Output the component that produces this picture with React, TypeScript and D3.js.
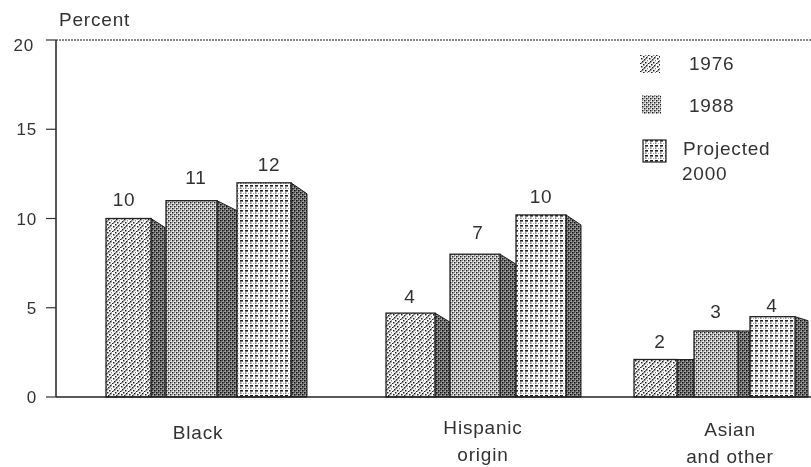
import React from "react";
import * as d3 from "d3";

const categories = ["Black", "Hispanic", "Asian"];
const categoryLines = [["Black"], ["Hispanic", "origin"], ["Asian", "and other"]];
const seriesNames = ["1976", "1988", "Projected 2000"];
const barHeights1976 = [10, 4.7, 2.1];
const barHeights1988 = [11, 8, 3.7];
const barHeights2000 = [12, 10.2, 4.5];
const labels1976 = ["10", "4", "2"];
const labels1988 = ["11", "7", "3"];
const labels2000 = ["12", "10", "4"];
const yTicks = [0, 5, 10, 15, 20];

const W = 811, H = 467;
const y = d3.scaleLinear().domain([0, 20]).range([397, 40]);
const keys = categories.flatMap((c) => seriesNames.map((s) => `${c}|${s}`));
const left = d3.scaleOrdinal<string, number>().domain(keys).range([106, 166, 237, 386, 450, 516, 634, 694, 750]);
const right = d3.scaleOrdinal<string, number>().domain(keys).range([151, 217, 291, 435, 500, 566, 677, 738, 795]);
const sideEnd = d3.scaleOrdinal<string, number>().domain(keys).range([165, 237, 307, 450, 516, 581, 694, 750, 808]);
const dropBy = d3.scaleOrdinal<string, number>().domain(keys).range([9, 10, 11, 9, 10, 10, 0, 0, 4]);
const labelX = d3.scaleOrdinal<string, number>().domain(keys).range([124, 196, 269, 410, 478, 541, 660, 716, 772]);
const labelGap = d3.scaleOrdinal<string, number>().domain(keys).range([13, 17, 12, 10, 15, 12, 12, 13, 5]);
const catX = d3.scaleOrdinal<string, number>().domain(categories).range([198, 483, 730]);

const rows = categories.flatMap((c, i) => [
  { c, s: seriesNames[0], v: barHeights1976[i], l: labels1976[i], p: 0 },
  { c, s: seriesNames[1], v: barHeights1988[i], l: labels1988[i], p: 1 },
  { c, s: seriesNames[2], v: barHeights2000[i], l: labels2000[i], p: 2 },
]);

const font = "'Liberation Sans', Arial, sans-serif";
const Dots = ({ pts, c = "#222", s = 1.2 }: { pts: number[][]; c?: string; s?: number }) => (
  <>{pts.map(([a, b], i) => <rect key={i} x={a} y={b} width={s} height={s} fill={c} />)}</>
);

export default function App() {
  const patFill = ["url(#p76)", "url(#p88)", "url(#p00)"];
  const txt = { fontSize: 19, fill: "#333", letterSpacing: 0.8 };
  return (
    <svg width={W} height={H} viewBox={`0 0 ${W} ${H}`} style={{ position: "absolute", left: 0, top: 0, background: "#fff", fontFamily: font }}>
      <defs>
        <filter id="soft" x="-5%" y="-5%" width="110%" height="110%">
          <feGaussianBlur stdDeviation="0.4" />
        </filter>
        <pattern id="p76" width="8" height="8" patternUnits="userSpaceOnUse">
          <rect width="8" height="8" fill="#fafafa" />
          <Dots pts={[[0, 7], [2, 5], [4, 3], [6, 1], [1, 2], [5, 6], [3, 0]]} c="#222" s={1.5} />
          <Dots pts={[[1, 6], [3, 4], [5, 2], [7, 0], [7, 4]]} c="#888" s={1.5} />
        </pattern>
        <pattern id="p88" width="4" height="4" patternUnits="userSpaceOnUse">
          <rect width="4" height="4" fill="#f4f4f4" />
          <Dots pts={[[0, 0], [2, 2]]} c="#1a1a1a" s={1.5} />
          <Dots pts={[[2, 0], [0, 2]]} c="#888" s={1.2} />
        </pattern>
        <pattern id="p00" width="5" height="5" patternUnits="userSpaceOnUse">
          <rect width="5" height="5" fill="#fdfdfd" />
          <rect x="0" y="0" width="3" height="1.6" fill="#222" />
          <rect x="0" y="2.5" width="1.5" height="1.2" fill="#555" />
          <rect x="3" y="3" width="1" height="1" fill="#aaa" />
        </pattern>
        <pattern id="side" width="4" height="4" patternUnits="userSpaceOnUse">
          <rect width="4" height="4" fill="#a8a8a8" />
          <Dots pts={[[0, 0], [2, 2]]} c="#111" s={1.6} />
          <Dots pts={[[2, 0], [0, 2]]} c="#444" s={1.2} />
        </pattern>
      </defs>

      <g filter="url(#soft)">
        <text x={59} y={26} {...txt}>Percent</text>
        <line x1={56} x2={W} y1={y(20)} y2={y(20)} stroke="#888" strokeWidth={2} strokeDasharray="2 1" />
        <line x1={56} x2={56} y1={y(20)} y2={y(0)} stroke="#222" strokeWidth={1.5} />
        {yTicks.map((t) => (
          <g key={t}>
            <line x1={46} x2={56} y1={y(t)} y2={y(t)} stroke="#333" strokeWidth={1.2} />
            <text x={t === 20 ? 34 : 37} y={y(t) + (t === 20 ? 11 : 6)} textAnchor="end" {...txt} fontSize={17}>{t}</text>
          </g>
        ))}

        {rows.map((r) => {
          const k = `${r.c}|${r.s}`;
          const x0 = left(k), x1 = right(k), x2 = sideEnd(k);
          const top = y(r.v), base = y(0);
          const drop = dropBy(k);
          return (
            <g key={k}>
              <path d={`M${x1},${top}L${x2},${top + drop}L${x2},${base}L${x1},${base}Z`} fill="url(#side)" stroke="#222" strokeWidth={1} />
              <rect x={x0} y={top} width={x1 - x0} height={base - top} fill={patFill[r.p]} stroke="#222" strokeWidth={1.3} />
              <text x={labelX(k)} y={top - labelGap(k)} textAnchor="middle" {...txt}>{r.l}</text>
            </g>
          );
        })}

        <line x1={56} x2={W} y1={y(0)} y2={y(0)} stroke="#222" strokeWidth={1.5} />

        {categories.map((c, i) => (
          <text key={c} textAnchor="middle" {...txt}>
            {categoryLines[i].map((ln, j) => (
              <tspan key={j} x={catX(c)} y={[439, 434, 436][i] + j * 27}>{ln}</tspan>
            ))}
          </text>
        ))}

        {seriesNames.map((s, i) => (
          <rect key={s} x={[640, 642, 643][i]} y={[55, 95, 140][i]} width={[20, 19, 23][i]} height={[18, 19, 22][i]} fill={patFill[i]} stroke={i === 2 ? "#222" : "none"} strokeWidth={1.2} />
        ))}
        <text x={689} y={70} {...txt}>1976</text>
        <text x={689} y={112} {...txt}>1988</text>
        <text x={683} y={155} {...txt}>Projected</text>
        <text x={682} y={180} {...txt}>2000</text>
      </g>
    </svg>
  );
}
